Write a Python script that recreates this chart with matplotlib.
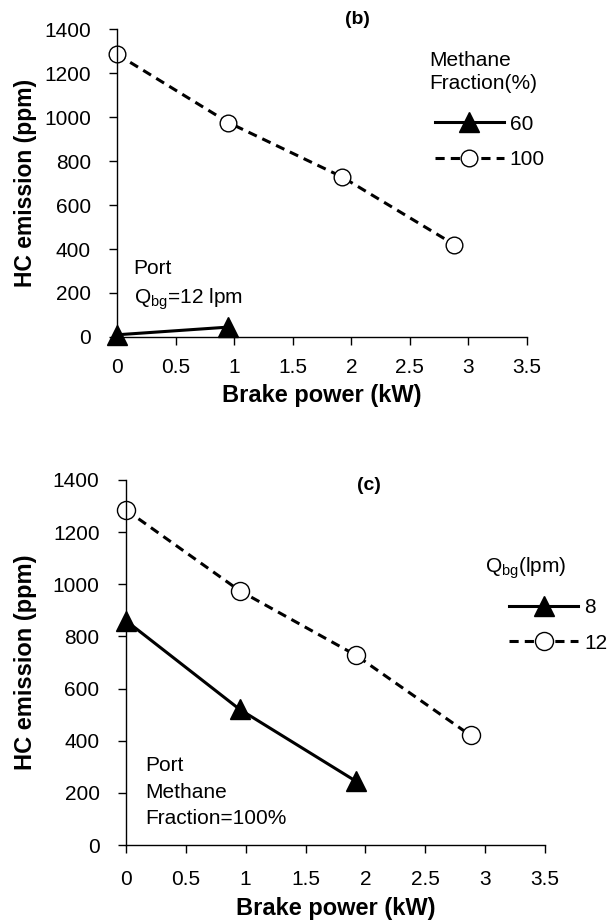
import numpy as np
import matplotlib
matplotlib.use('Agg')
import matplotlib.pyplot as plt

plt.rcParams['font.family'] = ['Liberation Sans', 'DejaVu Sans']
plt.rcParams['mathtext.fontset'] = 'custom'
plt.rcParams['mathtext.rm'] = 'Liberation Sans'
plt.rcParams['mathtext.it'] = 'Liberation Sans'

# panel (b): methane fraction
power_b_60 = [0, 0.95]
hc_b_60 = [10, 45]
power_b_100 = [0, 0.95, 1.92, 2.88]
hc_b_100 = [1285, 975, 728, 420]

# panel (c): biogas flow rate
power_c_8 = [0, 0.95, 1.92]
hc_c_8 = [860, 520, 245]
power_c_12 = [0, 0.95, 1.92, 2.88]
hc_c_12 = [1285, 975, 728, 420]

xticks = [0, 0.5, 1, 1.5, 2, 2.5, 3, 3.5]
xtick_labels = ['0', '0.5', '1', '1.5', '2', '2.5', '3', '3.5']
yticks = [0, 200, 400, 600, 800, 1000, 1200, 1400]

fs = 15
fig = plt.figure(figsize=(6.07, 9.22), dpi=100)
ax_b = fig.add_axes([0.193, 0.6345, 0.675, 0.334])
ax_c = fig.add_axes([0.2076, 0.0835, 0.690, 0.396])


def style(ax, xpad, lab_fs, ylab_x, xlab_y):
    ax.set_xlim(0, 3.5)
    ax.set_ylim(0, 1400)
    ax.set_xticks(xticks)
    ax.set_xticklabels(xtick_labels)
    ax.set_yticks(yticks)
    for s in ['top', 'right']:
        ax.spines[s].set_visible(False)
    for s in ['left', 'bottom']:
        ax.spines[s].set_linewidth(1.0)
    ax.tick_params(direction='out', length=6, width=1.0, labelsize=fs)
    ax.tick_params(axis='y', pad=13)
    ax.tick_params(axis='x', pad=xpad)
    ax.set_ylabel('HC emission (ppm)', fontsize=lab_fs, fontweight='bold')
    ax.set_xlabel('Brake power (kW)', fontsize=17, fontweight='bold')
    ax.xaxis.set_label_coords(0.5, xlab_y)
    ax.yaxis.set_label_coords(ylab_x, 0.5)


def series(msize):
    solid = dict(color='black', linewidth=2.2, marker='^', markersize=msize + 2,
                 markerfacecolor='black', markeredgecolor='black', clip_on=False)
    dash = dict(color='black', linewidth=2.2, linestyle=(0, (3, 2)), marker='o',
                markersize=msize, markerfacecolor='white', markeredgecolor='black',
                markeredgewidth=1.0, clip_on=False)
    return solid, dash


# (b)
solid_kw, dash_kw = series(12)
ax_b.plot(power_b_60, hc_b_60, label='60', **solid_kw)
ax_b.plot(power_b_100, hc_b_100, label='100', **dash_kw)
style(ax_b, 9, 16.5, -0.195, -0.153)
ax_b.text(0.587, 1.03, '(b)', transform=ax_b.transAxes, ha='center', va='center',
          fontsize=fs - 1, fontweight='bold')
ax_b.text(0.04, 0.252, 'Port\nQ$_\\mathregular{bg}$=12 lpm', transform=ax_b.transAxes,
          ha='left', va='top', fontsize=fs, linespacing=1.45)
ax_b.text(0.762, 0.86, 'Methane\nFraction(%)', transform=ax_b.transAxes,
          ha='left', va='center', fontsize=fs, linespacing=1.3)
ax_b.legend(loc='upper left', bbox_to_anchor=(0.75, 0.756), frameon=False,
            fontsize=fs, handlelength=3.3, handletextpad=0.3,
            borderpad=0, labelspacing=0.8)

# (c)
solid_kw, dash_kw = series(13)
ax_c.plot(power_c_8, hc_c_8, label='8', **solid_kw)
ax_c.plot(power_c_12, hc_c_12, label='12', **dash_kw)
style(ax_c, 12, 17, -0.212, -0.142)
ax_c.text(0.58, 0.985, '(c)', transform=ax_c.transAxes, ha='center', va='center',
          fontsize=fs - 1, fontweight='bold')
ax_c.text(0.045, 0.245, 'Port\nMethane\nFraction=100%', transform=ax_c.transAxes,
          ha='left', va='top', fontsize=fs, linespacing=1.53)
ax_c.text(0.857, 0.757, 'Q$_\\mathregular{bg}$(lpm)', transform=ax_c.transAxes,
          ha='left', va='center', fontsize=fs)
ax_c.legend(loc='upper left', bbox_to_anchor=(0.89, 0.705), frameon=False,
            fontsize=fs, handlelength=3.3, handletextpad=0.3,
            borderpad=0, labelspacing=0.8)

fig.savefig('out.png', dpi=100)
